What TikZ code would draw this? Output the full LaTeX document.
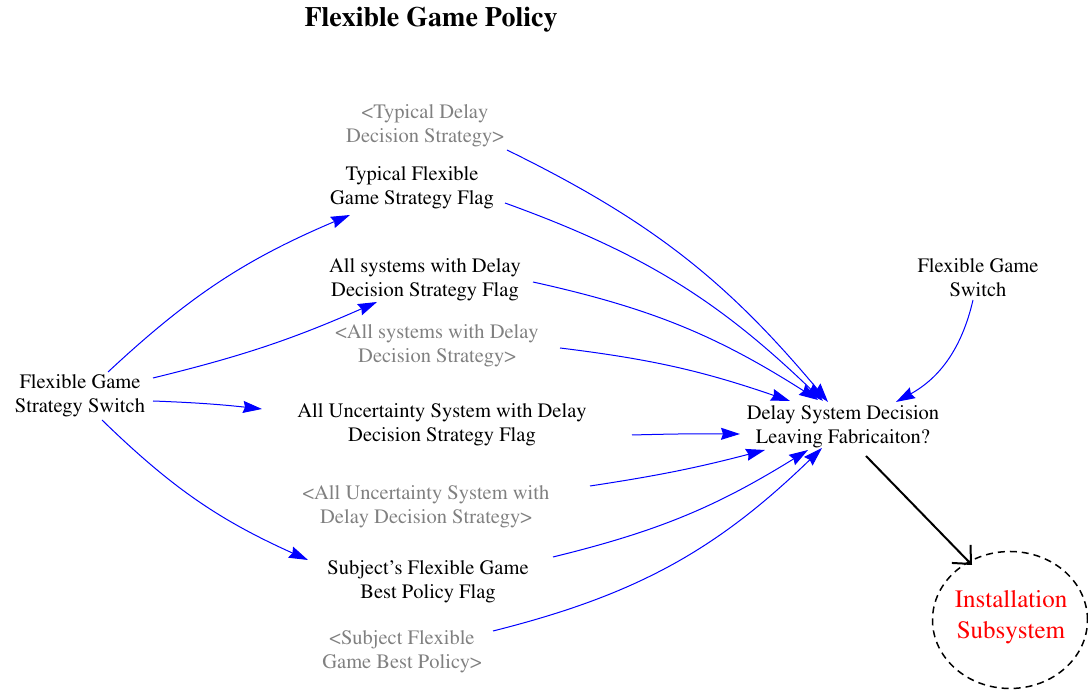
\documentclass[tikz,border=0pt]{standalone}
\usepackage[T1]{fontenc}
\renewcommand{\rmdefault}{ptm}
\newcommand{\diagramfont}{\fontencoding{T1}\fontfamily{ptm}\selectfont}
\usetikzlibrary{arrows.meta,shapes.geometric}
\definecolor{linkblue}{RGB}{0,0,255}
\definecolor{shadowgray}{RGB}{128,128,128}
\begin{document}
\begin{tikzpicture}[x=1pt,y=1pt,
  var/.style={align=center,font=\diagramfont\fontsize{20.5}{24}\selectfont,inner sep=0pt},
  shadowvar/.style={var,text=shadowgray},
  link/.style={draw=linkblue,line width=1pt,-{Stealth[length=19pt,width=12pt,inset=2pt]}},
  flow/.style={draw=black,line width=2pt,-{Straight Barb[length=14pt,width=26pt]}}
]
\useasboundingbox (0,0) rectangle (1088,690);

% title
\node[font=\diagramfont\bfseries\fontsize{28}{32}\selectfont,inner sep=0pt] (title) at (431,670) {Flexible Game Policy};

% variables
\node[shadowvar] (tdds)  at (425,564) {<Typical Delay\\Decision Strategy>};
\node[var]       (tfgsf) at (412,502) {Typical Flexible\\Game Strategy Flag};
\node[var]       (aswdf) at (425,410) {All systems with Delay\\Decision Strategy Flag};
\node[shadowvar] (aswdds) at (437,344) {<All systems with Delay\\Decision Strategy>};
\node[var]       (ausf)  at (442,265) {All Uncertainty System with Delay\\Decision Strategy Flag};
\node[shadowvar] (ausds) at (426,183) {<All Uncertainty System with\\Delay Decision Strategy>};
\node[var]       (sfgf)  at (428,108) {Subject's Flexible Game\\Best Policy Flag};
\node[shadowvar] (sfgbp) at (402,38)  {<Subject Flexible\\Game Best Policy>};
\node[var]       (fgss)  at (80,294)  {Flexible Game\\Strategy Switch};
\node[var]       (dsd)   at (843,263) {Delay System Decision\\Leaving Fabricaiton?};
\node[var]       (fgs)   at (978,412) {Flexible Game\\Switch};

% installation subsystem: dashed cloud outline with its red label
\node[ellipse,draw,line width=1.5pt,dash pattern=on 7pt off 5pt,
      minimum width=155pt,minimum height=137pt,inner sep=0pt] (inst) at (1010,70) {};
\node[align=center,text=red,inner sep=0pt,
      font=\diagramfont\fontsize{25}{31}\selectfont] (instlabel) at (1011,73) {Installation\\Subsystem};

% links into the decision variable
\draw[link] ([shift={(82,-24)}]tdds.center)   to[bend left=12] ([shift={(-15,25)}]dsd.center);
\draw[link] ([shift={(93,-15)}]tfgsf.center)  to[bend left=12] ([shift={(-20,26)}]dsd.center);
\draw[link] ([shift={(108,-2)}]aswdf.center)  to[bend left=10] ([shift={(-25,27)}]dsd.center);
\draw[link] ([shift={(123,-2)}]aswdds.center) to[bend left=6]  ([shift={(-53,26)}]dsd.center);
\draw[link] ([shift={(190,-10)}]ausf.center)  to[bend left=1]  ([shift={(-103,-7)}]dsd.center);
\draw[link] ([shift={(164,21)}]ausds.center)  to[bend right=3] ([shift={(-78,-23)}]dsd.center);
\draw[link] ([shift={(125,25)}]sfgf.center)   to[bend right=9] ([shift={(-35,-23)}]dsd.center);
\draw[link] ([shift={(91,21)}]sfgbp.center)   to[bend right=15] ([shift={(-21,-21)}]dsd.center);
\draw[link] ([shift={(-5,-22)}]fgs.center)    to[bend left=24] ([shift={(53,25)}]dsd.center);

% links from the strategy switch
\draw[link] ([shift={(28,24)}]fgss.center)  to[bend left=10] ([shift={(-62,-27)}]tfgsf.center);
\draw[link] ([shift={(73,18)}]fgss.center)  to[bend right=5] ([shift={(-48,-22)}]aswdf.center);
\draw[link] ([shift={(73,-5)}]fgss.center)  to[bend left=2]  ([shift={(-180,16)}]ausf.center);
\draw[link] ([shift={(22,-24)}]fgss.center) to[bend right=10] ([shift={(-120,22)}]sfgf.center);

% outflow to the installation subsystem
\draw[flow] ([shift={(23,-29)}]dsd.center) -- ([shift={(-38,55)}]inst.center);
\end{tikzpicture}
\end{document}
